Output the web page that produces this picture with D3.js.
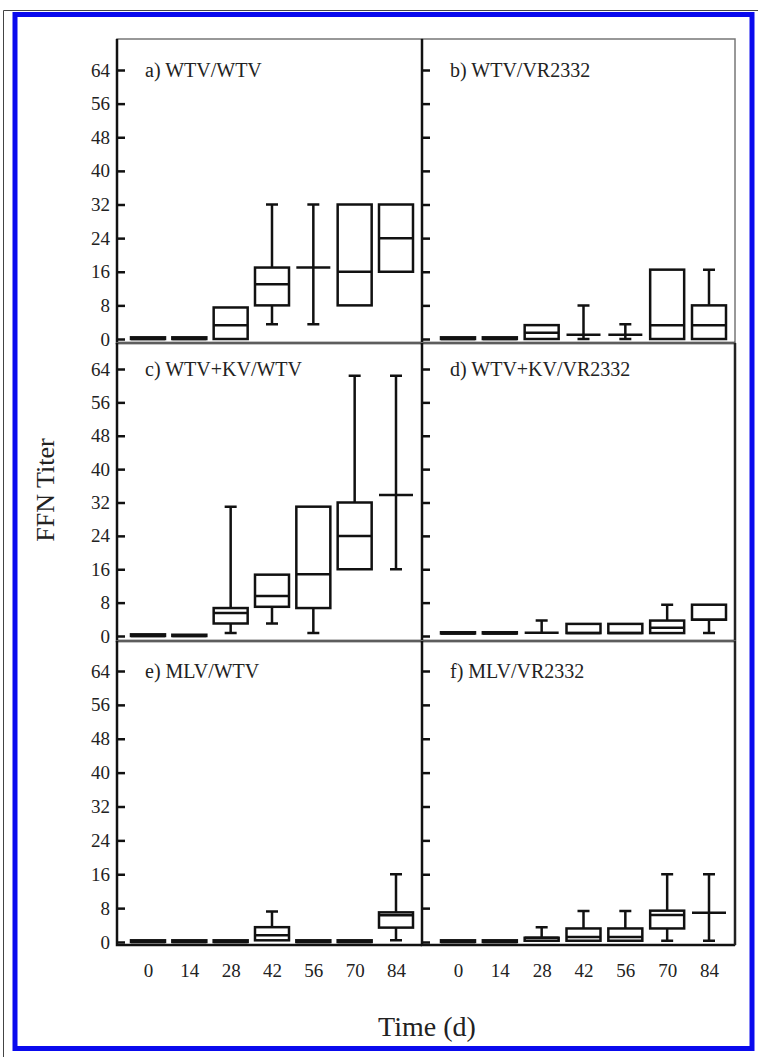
<!DOCTYPE html>
<html lang="en">
<head>
<meta charset="UTF-8">
<title>FFN Titer</title>
<script src="https://cdn.jsdelivr.net/npm/d3@7"></script>
<style>
  body { margin: 0; background: #fff; }
  text { font-family: "Liberation Serif", "Times New Roman", serif; fill: #222; }
</style>
</head>
<body>
<div id="chart"></div>
<script>
// days post vaccination (x categories)
const days = [0, 14, 28, 42, 56, 70, 84]
const yTicks = [0, 8, 16, 24, 32, 40, 48, 56, 64]
const panelNames = ["a) WTV/WTV", "b) WTV/VR2332", "c) WTV+KV/WTV", "d) WTV+KV/VR2332", "e) MLV/WTV", "f) MLV/VR2332"]

// each entry: [min, q1, median, q3, max]
const boxA = [[0,0,0,0.4,0.4],[0,0,0,0.4,0.4],[0,0,3.3,7.5,7.5],[3.5,8,13,17,32],[3.5,17,17,17,32],[8,8,16,32,32],[16,16,24,32,32]]
const boxB = [[0,0,0,0.4,0.4],[0,0,0,0.4,0.4],[0,0,1.5,3.3,3.3],[0,1,1,1,8],[0,1,1,1,3.5],[0,0,3.3,16.5,16.5],[0,0,3.3,8,16.5]]
const boxC = [[0,0,0,0.4,0.4],[0,0,0,0.3,0.3],[0.7,3,5.5,6.7,31],[3,7,9.6,14.7,14.7],[0.7,6.7,14.8,31,31],[16,16,24,32,62.4],[16,33.8,33.8,33.8,62.4]]
const boxD = [[0.6,0.6,0.6,0.9,0.9],[0.6,0.6,0.6,0.9,0.9],[0.8,0.8,0.8,0.8,3.7],[0.7,0.7,0.7,2.9,2.9],[0.7,0.7,0.7,2.9,2.9],[0.7,0.7,2,3.7,7.5],[0.7,3.9,3.9,7.5,7.5]]
const boxE = [[0,0,0,0.4,0.4],[0,0,0,0.4,0.4],[0,0,0,0.4,0.4],[0.4,0.4,1.6,3.5,7.2],[0,0,0,0.4,0.4],[0,0,0,0.4,0.4],[0.4,3.4,6.3,7,16]]
const boxF = [[0,0,0,0.4,0.4],[0,0,0,0.4,0.4],[0.3,0.3,1,1,3.5],[0.3,0.3,1.2,3.2,7.3],[0.3,0.3,1.2,3.2,7.3],[0.3,3.2,6.4,7.4,16],[0.3,6.9,6.9,6.9,16]]
const panelData = [boxA, boxB, boxC, boxD, boxE, boxF]

const width = 758
const height = 1057
const cols = [{x0: 117, x1: 422, padL: 31}, {x0: 422, x1: 735, padL: 36}]
const rows = [
  {top: 39, bottom: 343, y0: 339, y64: 70},
  {top: 343, bottom: 641, y0: 636, y64: 369},
  {top: 641, bottom: 945, y0: 942, y64: 671}
]
const boxW = 34
const capW = 12

const svg = d3.select("#chart").append("svg")
  .attr("width", width)
  .attr("height", height)

// outer frame
svg.append("path")
  .attr("d", "M3.5," + height + "V10.5H" + width)
  .attr("fill", "none")
  .attr("stroke", "#444")
  .attr("stroke-width", 1)
svg.append("rect")
  .attr("x", 15).attr("y", 14.5)
  .attr("width", 737).attr("height", 1034)
  .attr("fill", "none")
  .attr("stroke", "#0a0aee")
  .attr("stroke-width", 5)

panelData.forEach((data, i) => {
  const col = cols[i % 2]
  const row = rows[Math.floor(i / 2)]
  const x = d3.scalePoint().domain(days).range([col.x0 + col.padL, col.x1 - 26])
  const y = d3.scaleLinear().domain([0, 64]).range([row.y0, row.y64])
  const g = svg.append("g")

  // panel frame: light top/right, heavy left/bottom
  g.append("rect")
    .attr("x", col.x0).attr("y", row.top)
    .attr("width", col.x1 - col.x0).attr("height", row.bottom - row.top)
    .attr("fill", "none")
    .attr("stroke", "#777")
    .attr("stroke-width", 1.5)
  g.append("path")
    .attr("d", "M" + col.x0 + "," + row.top + "V" + row.bottom + "H" + col.x1)
    .attr("fill", "none")
    .attr("stroke", "#111")
    .attr("stroke-width", 2.5)
  if (i == 3 || i == 5) {
    g.append("line")
      .attr("x1", col.x1).attr("x2", col.x1)
      .attr("y1", row.top).attr("y2", row.bottom)
      .attr("stroke", "#222")
      .attr("stroke-width", 2.5)
  }

  const yAxis = d3.axisLeft(y).tickValues(yTicks).tickSize(-8).tickPadding(7)
  if (i % 2 == 1) yAxis.tickFormat("")
  const ya = g.append("g")
    .attr("transform", "translate(" + col.x0 + ",0)")
    .call(yAxis)
  ya.select(".domain").remove()
  ya.selectAll("line").attr("stroke", "#111").attr("stroke-width", 2.5)
  ya.selectAll("text").style("font-size", "19px").attr("fill", "#222")

  g.append("text")
    .attr("x", col.x0 + 28)
    .attr("y", row.y64 + 7)
    .style("font-size", "20px")
    .attr("fill", "#333")
    .text(panelNames[i])

  if (i >= 4) {
    const xa = g.append("g")
      .attr("transform", "translate(0," + row.bottom + ")")
      .call(d3.axisBottom(x).tickSize(0).tickPadding(19))
    xa.select(".domain").remove()
    xa.selectAll("text").style("font-size", "19px").attr("fill", "#222")
  }

  const boxes = g.selectAll("g.box").data(data).join("g").attr("class", "box")
    .attr("transform", (d, j) => "translate(" + x(days[j]) + ",0)")
  const line = (x1, y1, x2, y2) => "M" + x1 + "," + y1 + "L" + x2 + "," + y2

  // whiskers with end caps
  boxes.append("path")
    .attr("d", d => {
      let p = ""
      if (d[4] > d[3]) p += line(0, y(d[3]), 0, y(d[4])) + line(-capW / 2, y(d[4]), capW / 2, y(d[4]))
      if (d[0] < d[1]) p += line(0, y(d[1]), 0, y(d[0])) + line(-capW / 2, y(d[0]), capW / 2, y(d[0]))
      return p || "M0,0"
    })
    .attr("stroke", "#111")
    .attr("stroke-width", 2.5)
    .attr("fill", "none")
  boxes.append("rect")
    .attr("x", -boxW / 2)
    .attr("y", d => y(d[3]))
    .attr("width", boxW)
    .attr("height", d => y(d[1]) - y(d[3]))
    .attr("fill", "#fff")
    .attr("stroke", "#111")
    .attr("stroke-width", 2.5)
  boxes.append("line")
    .attr("x1", -boxW / 2).attr("x2", boxW / 2)
    .attr("y1", d => y(d[2])).attr("y2", d => y(d[2]))
    .attr("stroke", "#111")
    .attr("stroke-width", 2.5)
})

svg.append("text")
  .attr("transform", "translate(54,490) rotate(-90)")
  .attr("text-anchor", "middle")
  .style("font-size", "26px")
  .text("FFN Titer")

svg.append("text")
  .attr("x", 427)
  .attr("y", 1036)
  .attr("text-anchor", "middle")
  .style("font-size", "28px")
  .text("Time (d)")
</script>
</body>
</html>
